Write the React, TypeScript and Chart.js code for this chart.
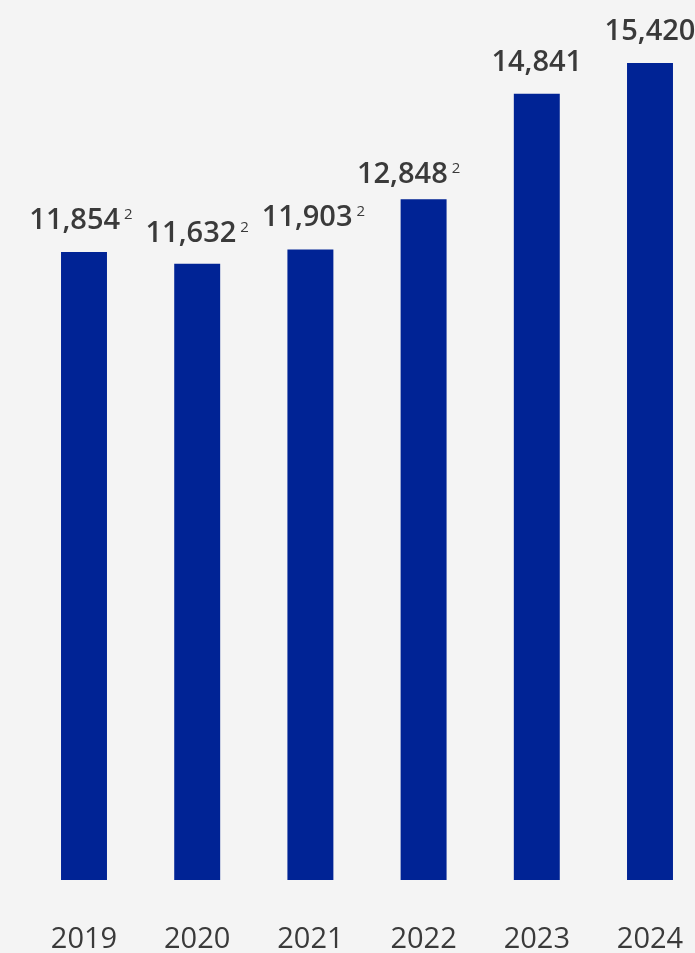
import React, { useEffect, useRef } from "react";
import { Chart, registerables } from "chart.js";

Chart.register(...registerables);

const years = ["2019", "2020", "2021", "2022", "2023", "2024"];
const employees = [11854, 11632, 11903, 12848, 14841, 15420];
const footnotes = ["2", "2", "2", "2", "", ""];

const BG = "#f4f4f4";
const BAR = "#002395";
const TEXT = "#3a3a3a";
const FONT = "'Open Sans', 'Noto Sans', sans-serif";

// small hand placement tweaks of the value labels as seen in the reference
const LABEL_NUDGE: Array<[number, number]> = [[-3, 0], [0, 1], [3, 0], [-15, 7], [0, 0], [0, 0]];

const fmt = (v: number) => v.toLocaleString("en-US");

const labelPlugin = {
  id: "valueLabels",
  afterDatasetsDraw(chart: any) {
    const ctx = chart.ctx;
    const meta = chart.getDatasetMeta(0);
    ctx.save();
    ctx.fillStyle = TEXT;
    ctx.textBaseline = "alphabetic";
    meta.data.forEach((bar: any, i: number) => {
      const main = fmt(employees[i]);
      const sup = footnotes[i];
      const gap = 4;
      ctx.font = `600 29px ${FONT}`;
      const mw = ctx.measureText(main).width;
      ctx.font = `400 15px ${FONT}`;
      const sw = sup ? ctx.measureText(sup).width + gap : 0;
      const total = mw + sw;
      const [dx, dy] = LABEL_NUDGE[i];
      const x0 = bar.x - total / 2 + dx;
      const baseline = bar.y - 23 + dy;
      ctx.font = `600 29px ${FONT}`;
      ctx.textAlign = "left";
      ctx.fillText(main, x0, baseline);
      if (sup) {
        ctx.font = `400 15px ${FONT}`;
        ctx.fillText(sup, x0 + mw + gap, baseline - 10);
      }
    });
    ctx.restore();
  },
};

export default function App() {
  const ref = useRef<HTMLCanvasElement | null>(null);

  useEffect(() => {
    document.body.style.margin = "0";
    document.body.style.background = BG;
    const canvas = ref.current!;
    const chart = new Chart(canvas, {
      type: "bar",
      data: {
        labels: years,
        datasets: [
          {
            data: employees,
            backgroundColor: BAR,
            borderWidth: 0,
            categoryPercentage: 1,
            barPercentage: 0.406,
          },
        ],
      },
      options: {
        responsive: false,
        animation: false,
        events: [],
        layout: { padding: { left: 27.4, right: 13.4, top: 0, bottom: 0 } },
        plugins: {
          legend: { display: false },
          tooltip: { enabled: false },
          title: { display: false },
        },
        scales: {
          x: {
            grid: { display: false, drawTicks: true, tickLength: 40 },
            border: { display: false },
            ticks: {
              color: TEXT,
              font: { family: FONT, size: 29, weight: "400" },
              padding: 2,
              maxRotation: 0,
              autoSkip: false,
            },
            afterFit: (scale: any) => {
              scale.height = 73;
            },
          },
          y: {
            display: false,
            min: 0,
            max: 16610,
          },
        },
      },
      plugins: [labelPlugin],
    });
    return () => chart.destroy();
  }, []);

  return (
    <div style={{ width: 695, height: 953, overflow: "hidden", background: BG, position: "relative" }}>
      <canvas ref={ref} width={720} height={953} style={{ display: "block", width: 720, height: 953 }} />
    </div>
  );
}
